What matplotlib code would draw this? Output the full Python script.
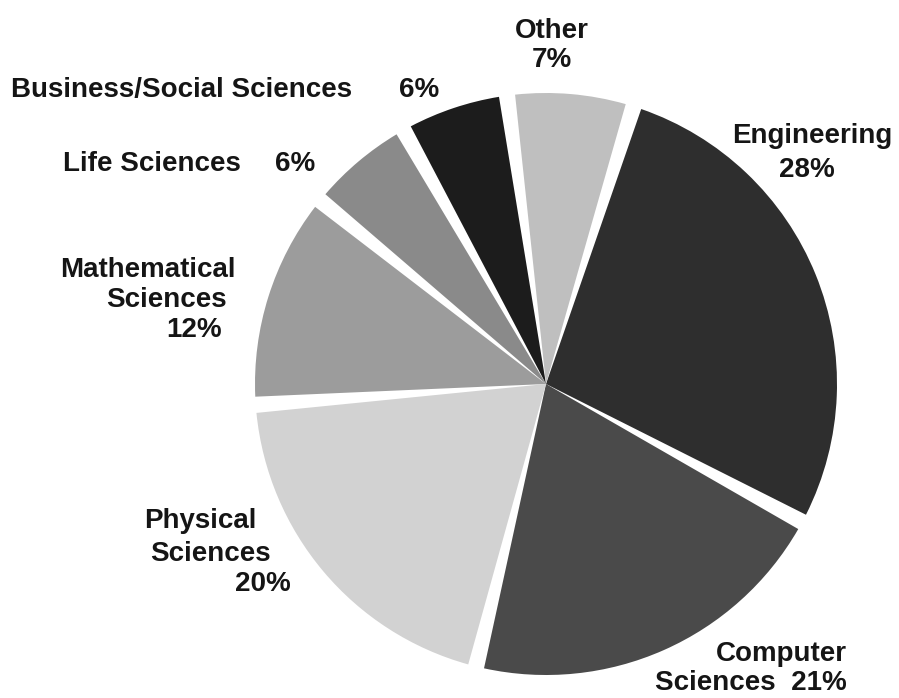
import matplotlib.pyplot as plt

# share of degrees by field
fields = ['Engineering', 'Computer Sciences', 'Physical Sciences',
          'Mathematical Sciences', 'Life Sciences',
          'Business/Social Sciences', 'Other']
shares = [28, 21, 20, 12, 6, 6, 7]
greys = ['#2e2e2e', '#4a4a4a', '#d2d2d2', '#9c9c9c', '#8a8a8a', '#1c1c1c', '#bfbfbf']

W, H = 899, 698
fig = plt.figure(figsize=(W / 100, H / 100), dpi=100)
ax = fig.add_axes([0, 0, 1, 1])

wedges, _ = ax.pie(shares, colors=greys, startangle=72.5, counterclock=False,
                   center=(546, H - 384), radius=291, frame=True)
# white tapered gaps between the slices
gap = 1.6
for w in wedges:
    w.set_theta1(w.theta1 + gap)
    w.set_theta2(w.theta2 - gap)

ax.set_xlim(0, W)
ax.set_ylim(0, H)
ax.set_aspect('equal')
ax.axis('off')

font = dict(family='Liberation Sans', weight='bold', fontsize=20, color='#151515')

def label(x, y, s, ha='center'):
    # y is the baseline, counted from the top
    ax.text(x, H - y, s, ha=ha, va='baseline', **font)

pct = ['%d%%' % s for s in shares]

label(552, 38, 'Other')
label(552, 67, pct[6])
label(812, 143, 'Engineering')
label(807, 177, pct[0])
label(11, 97, 'Business/Social Sciences', ha='left')
label(439, 97, pct[5], ha='right')
label(63, 171, 'Life Sciences', ha='left')
label(315, 171, pct[4], ha='right')
label(236, 277, 'Mathematical', ha='right')
label(227, 307, 'Sciences', ha='right')
label(222, 337, pct[3], ha='right')
label(256, 528, 'Physical', ha='right')
label(271, 561, 'Sciences', ha='right')
label(291, 591, pct[2], ha='right')
label(847, 661, 'Computer', ha='right')
label(847, 690, 'Sciences  ' + pct[1], ha='right')

fig.savefig('out.png', dpi=100, facecolor='white')
